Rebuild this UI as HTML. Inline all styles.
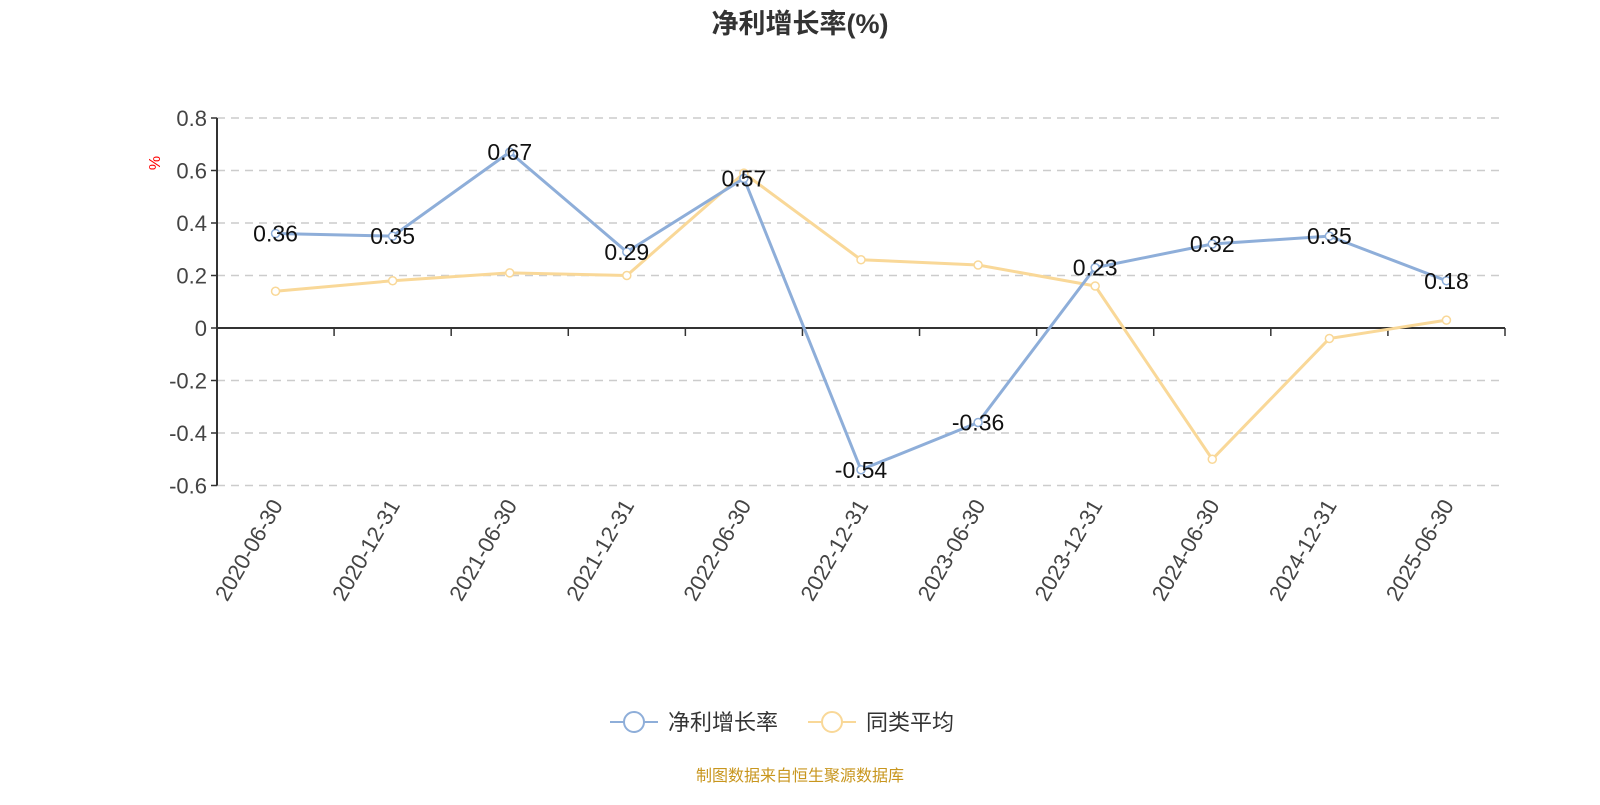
<!DOCTYPE html>
<html><head><meta charset="utf-8"><style>
body{margin:0;background:#fff;width:1600px;height:800px;overflow:hidden}
text{font-family:"Liberation Sans","Noto Sans CJK SC",sans-serif}
</style></head><body>
<svg id="chart" width="1600" height="800" xmlns="http://www.w3.org/2000/svg">
<text x="800" y="33" text-anchor="middle" font-size="27" font-weight="bold" fill="#333">净利增长率(%)</text>
<text x="0" y="0" transform="translate(160,163) rotate(-90)" text-anchor="middle" font-size="16" fill="#f00">%</text>
<g id="grid"></g><g id="axes"></g><g id="series"></g>
<g>
<g><line x1="610" y1="722" x2="658" y2="722" stroke="#8eaed9" stroke-width="2"/><circle cx="634" cy="722" r="10" fill="#fff" stroke="#8eaed9" stroke-width="2"/><text x="668" y="730" font-size="22" fill="#333">净利增长率</text></g>
<g><line x1="808" y1="722" x2="856" y2="722" stroke="#f9d898" stroke-width="2"/><circle cx="832" cy="722" r="10" fill="#fff" stroke="#f9d898" stroke-width="2"/><text x="866" y="730" font-size="22" fill="#333">同类平均</text></g>
</g>
<text x="800" y="781" text-anchor="middle" font-size="16" fill="#c8961e">制图数据来自恒生聚源数据库</text>
</svg>
<script>
const categories=["2020-06-30","2020-12-31","2021-06-30","2021-12-31","2022-06-30","2022-12-31","2023-06-30","2023-12-31","2024-06-30","2024-12-31","2025-06-30"];
const netGrowth=[0.36,0.35,0.67,0.29,0.57,-0.54,-0.36,0.23,0.32,0.35,0.18];
const peerAvg=[0.14,0.18,0.21,0.20,0.59,0.26,0.24,0.16,-0.50,-0.04,0.03];
const yTicks=[0.8,0.6,0.4,0.2,0,-0.2,-0.4,-0.6];
const NS="http://www.w3.org/2000/svg";
const x0=217,x1=1505,bw=(x1-x0)/categories.length;
const X=i=>x0+bw*(i+0.5);
const Y=v=>328-v*262.5;
function mk(tag,attrs,parent){const e=document.createElementNS(NS,tag);for(const k in attrs)e.setAttribute(k,attrs[k]);parent.appendChild(e);return e;}
const grid=document.getElementById('grid'),axes=document.getElementById('axes'),series=document.getElementById('series');
yTicks.forEach(t=>{
 if(t!==0){const g=mk('line',{x1:x0,x2:x1,y1:Y(t),y2:Y(t),stroke:'#ccc','stroke-dasharray':'8,6','stroke-width':1.5},grid);
 
 }
 const tk=mk('line',{x1:x0-6,x2:x0,y1:Y(t),y2:Y(t),stroke:'#333','stroke-width':1.5},axes);
 
 
 const tl=mk('text',{x:x0-10,y:Y(t)+8,'text-anchor':'end','font-size':22,fill:'#444'},axes);tl.textContent=String(t);
 
 
});
const ya=mk('line',{x1:x0,x2:x0,y1:Y(0.8),y2:Y(-0.6),stroke:'#333','stroke-width':2},axes);


const xa=mk('line',{x1:x0,x2:x1,y1:Y(0),y2:Y(0),stroke:'#333','stroke-width':2},axes);


for(let i=0;i<=categories.length;i++){const t=mk('line',{x1:x0+bw*i,x2:x0+bw*i,y1:Y(0),y2:Y(0)+8,stroke:'#333','stroke-width':1.5},axes);
 
 }
categories.forEach((c,i)=>{const t=mk('text',{x:0,y:0,transform:`translate(${X(i)+8},${505}) rotate(-60)`,'text-anchor':'end','font-size':22,fill:'#444'},axes);t.textContent=c;
 
 });
function draw(vals,color,name){
 const p=mk('polyline',{points:vals.map((v,i)=>X(i)+','+Y(v)).join(' '),fill:'none',stroke:color,'stroke-width':3},series);
 
 
 vals.forEach((v,i)=>{const c=mk('circle',{cx:X(i),cy:Y(v),r:4,fill:'#fff',stroke:color,'stroke-width':1.5},series);
  
  });
 return p;
}
draw(peerAvg,'#f9d898','peer-avg');
draw(netGrowth,'#8eaed9','net-growth');
netGrowth.forEach((v,i)=>{const t=mk('text',{x:X(i),y:Y(v)+8,'text-anchor':'middle','font-size':23,fill:'#111'},series);t.textContent=String(v);
 
 });
</script>
</body></html>
